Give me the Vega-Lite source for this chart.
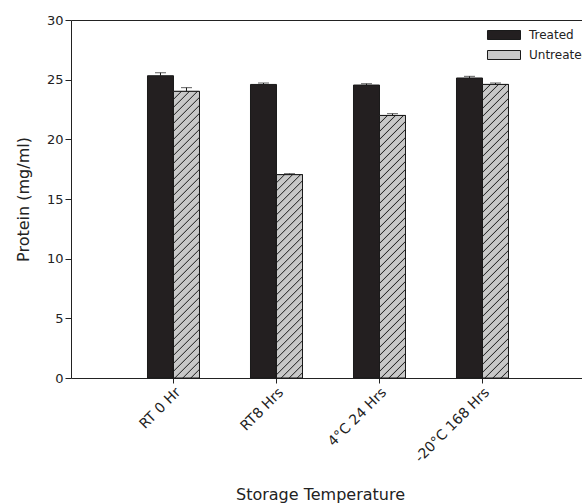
{
  "$schema": "https://vega.github.io/schema/vega-lite/v6.json",
  "autosize": "none",
  "padding": {"left": 71, "top": 20, "right": 0, "bottom": 126},
  "width": 511,
  "height": 358,
  "params": [
    {"name": "hs", "value": [
      {"offset":0,"color":"#c8c8c8"},
      {"offset":0.0215,"color":"#c8c8c8"},{"offset":0.025,"color":"#2a2a2a"},{"offset":0.0285,"color":"#c8c8c8"},
      {"offset":0.0465,"color":"#c8c8c8"},{"offset":0.05,"color":"#2a2a2a"},{"offset":0.0535,"color":"#c8c8c8"},
      {"offset":0.0715,"color":"#c8c8c8"},{"offset":0.075,"color":"#2a2a2a"},{"offset":0.0785,"color":"#c8c8c8"},
      {"offset":0.0965,"color":"#c8c8c8"},{"offset":0.1,"color":"#2a2a2a"},{"offset":0.1035,"color":"#c8c8c8"},
      {"offset":0.1215,"color":"#c8c8c8"},{"offset":0.125,"color":"#2a2a2a"},{"offset":0.1285,"color":"#c8c8c8"},
      {"offset":0.1465,"color":"#c8c8c8"},{"offset":0.15,"color":"#2a2a2a"},{"offset":0.1535,"color":"#c8c8c8"},
      {"offset":0.1715,"color":"#c8c8c8"},{"offset":0.175,"color":"#2a2a2a"},{"offset":0.1785,"color":"#c8c8c8"},
      {"offset":0.1965,"color":"#c8c8c8"},{"offset":0.2,"color":"#2a2a2a"},{"offset":0.2035,"color":"#c8c8c8"},
      {"offset":0.2215,"color":"#c8c8c8"},{"offset":0.225,"color":"#2a2a2a"},{"offset":0.2285,"color":"#c8c8c8"},
      {"offset":0.2465,"color":"#c8c8c8"},{"offset":0.25,"color":"#2a2a2a"},{"offset":0.2535,"color":"#c8c8c8"},
      {"offset":0.2715,"color":"#c8c8c8"},{"offset":0.275,"color":"#2a2a2a"},{"offset":0.2785,"color":"#c8c8c8"},
      {"offset":0.2965,"color":"#c8c8c8"},{"offset":0.3,"color":"#2a2a2a"},{"offset":0.3035,"color":"#c8c8c8"},
      {"offset":0.3215,"color":"#c8c8c8"},{"offset":0.325,"color":"#2a2a2a"},{"offset":0.3285,"color":"#c8c8c8"},
      {"offset":0.3465,"color":"#c8c8c8"},{"offset":0.35,"color":"#2a2a2a"},{"offset":0.3535,"color":"#c8c8c8"},
      {"offset":0.3715,"color":"#c8c8c8"},{"offset":0.375,"color":"#2a2a2a"},{"offset":0.3785,"color":"#c8c8c8"},
      {"offset":0.3965,"color":"#c8c8c8"},{"offset":0.4,"color":"#2a2a2a"},{"offset":0.4035,"color":"#c8c8c8"},
      {"offset":0.4215,"color":"#c8c8c8"},{"offset":0.425,"color":"#2a2a2a"},{"offset":0.4285,"color":"#c8c8c8"},
      {"offset":0.4465,"color":"#c8c8c8"},{"offset":0.45,"color":"#2a2a2a"},{"offset":0.4535,"color":"#c8c8c8"},
      {"offset":0.4715,"color":"#c8c8c8"},{"offset":0.475,"color":"#2a2a2a"},{"offset":0.4785,"color":"#c8c8c8"},
      {"offset":0.4965,"color":"#c8c8c8"},{"offset":0.5,"color":"#2a2a2a"},{"offset":0.5035,"color":"#c8c8c8"},
      {"offset":0.5215,"color":"#c8c8c8"},{"offset":0.525,"color":"#2a2a2a"},{"offset":0.5285,"color":"#c8c8c8"},
      {"offset":0.5465,"color":"#c8c8c8"},{"offset":0.55,"color":"#2a2a2a"},{"offset":0.5535,"color":"#c8c8c8"},
      {"offset":0.5715,"color":"#c8c8c8"},{"offset":0.575,"color":"#2a2a2a"},{"offset":0.5785,"color":"#c8c8c8"},
      {"offset":0.5965,"color":"#c8c8c8"},{"offset":0.6,"color":"#2a2a2a"},{"offset":0.6035,"color":"#c8c8c8"},
      {"offset":0.6215,"color":"#c8c8c8"},{"offset":0.625,"color":"#2a2a2a"},{"offset":0.6285,"color":"#c8c8c8"},
      {"offset":0.6465,"color":"#c8c8c8"},{"offset":0.65,"color":"#2a2a2a"},{"offset":0.6535,"color":"#c8c8c8"},
      {"offset":0.6715,"color":"#c8c8c8"},{"offset":0.675,"color":"#2a2a2a"},{"offset":0.6785,"color":"#c8c8c8"},
      {"offset":0.6965,"color":"#c8c8c8"},{"offset":0.7,"color":"#2a2a2a"},{"offset":0.7035,"color":"#c8c8c8"},
      {"offset":0.7215,"color":"#c8c8c8"},{"offset":0.725,"color":"#2a2a2a"},{"offset":0.7285,"color":"#c8c8c8"},
      {"offset":0.7465,"color":"#c8c8c8"},{"offset":0.75,"color":"#2a2a2a"},{"offset":0.7535,"color":"#c8c8c8"},
      {"offset":0.7715,"color":"#c8c8c8"},{"offset":0.775,"color":"#2a2a2a"},{"offset":0.7785,"color":"#c8c8c8"},
      {"offset":0.7965,"color":"#c8c8c8"},{"offset":0.8,"color":"#2a2a2a"},{"offset":0.8035,"color":"#c8c8c8"},
      {"offset":0.8215,"color":"#c8c8c8"},{"offset":0.825,"color":"#2a2a2a"},{"offset":0.8285,"color":"#c8c8c8"},
      {"offset":0.8465,"color":"#c8c8c8"},{"offset":0.85,"color":"#2a2a2a"},{"offset":0.8535,"color":"#c8c8c8"},
      {"offset":0.8715,"color":"#c8c8c8"},{"offset":0.875,"color":"#2a2a2a"},{"offset":0.8785,"color":"#c8c8c8"},
      {"offset":0.8965,"color":"#c8c8c8"},{"offset":0.9,"color":"#2a2a2a"},{"offset":0.9035,"color":"#c8c8c8"},
      {"offset":0.9215,"color":"#c8c8c8"},{"offset":0.925,"color":"#2a2a2a"},{"offset":0.9285,"color":"#c8c8c8"},
      {"offset":0.9465,"color":"#c8c8c8"},{"offset":0.95,"color":"#2a2a2a"},{"offset":0.9535,"color":"#c8c8c8"},
      {"offset":0.9715,"color":"#c8c8c8"},{"offset":0.975,"color":"#2a2a2a"},{"offset":0.9785,"color":"#c8c8c8"},
      {"offset":1,"color":"#c8c8c8"}
    ]}
  ],
  "data": {"values": [
    {"Temp":"RT 0 Hr","Group":"Treated","Protein":25.33,"Upper":25.58},
    {"Temp":"RT 0 Hr","Group":"Untreated","Protein":24.02,"Upper":24.33},
    {"Temp":"RT8 Hrs","Group":"Treated","Protein":24.6,"Upper":24.72},
    {"Temp":"RT8 Hrs","Group":"Untreated","Protein":17.04,"Upper":17.12},
    {"Temp":"4°C 24 Hrs","Group":"Treated","Protein":24.55,"Upper":24.66},
    {"Temp":"4°C 24 Hrs","Group":"Untreated","Protein":22.0,"Upper":22.15},
    {"Temp":"-20°C 168 Hrs","Group":"Treated","Protein":25.14,"Upper":25.28},
    {"Temp":"-20°C 168 Hrs","Group":"Untreated","Protein":24.6,"Upper":24.72}
  ]},
  "resolve": {"axis": {"x": "independent"}},
  "layer": [
    {
      "mark": {"type": "bar", "stroke": "#1a1a1a", "strokeWidth": 1},
      "encoding": {
        "x": {"field": "Temp", "type": "nominal", "sort": null,
              "scale": {"paddingInner": 0.495, "paddingOuter": 0.728, "align": 0.51},
              "axis": {"title": "Storage Temperature", "labelAngle": -45, "labelFontSize": 14, "tickSize": 5,
                       "labelPadding": 2, "titleFontSize": 16, "titleFontWeight": "normal",
                       "titleY": 121, "titleX": 249, "titleBaseline": "alphabetic", "titleAlign": "center"}},
        "xOffset": {"field": "Group", "type": "nominal", "scale": {"domain": ["Treated", "Untreated"]}},
        "y": {"field": "Protein", "type": "quantitative", "scale": {"domain": [0, 30], "nice": false},
              "axis": {"title": "Protein (mg/ml)", "values": [0, 5, 10, 15, 20, 25, 30], "labelFontSize": 13,
                       "tickSize": 6, "labelPadding": 2, "titleFontSize": 16, "titleFontWeight": "normal",
                       "titleX": -48, "titleY": 179, "titleAlign": "center", "titleBaseline": "middle"}},
        "fill": {"field": "Group", "type": "nominal",
                 "scale": {"domain": ["Treated", "Untreated"], "range": ["#231f20", "#c8c8c8"]},
                 "legend": {"title": null, "orient": "none", "legendX": 427, "legendY": 9, "padding": 0,
                            "symbolType": "M-3.67,-1L3.67,-1L3.67,1L-3.67,1Z", "symbolSize": 81,
                            "symbolStrokeColor": "#1a1a1a", "symbolStrokeWidth": 1, "labelOffset": 19,
                            "labelFontSize": 12, "rowPadding": 6,
                            "encoding": {"symbols": {
                              "fill": {"value": {"expr": "datum.value === 'Untreated' ? {gradient:'linear',x1:0,y1:0,x2:9.026,y2:2.462,stops:hs} : '#231f20'"}},
                              "stroke": {"value": "#1a1a1a"},
                              "strokeWidth": {"value": 1}
                            }}}}
      }
    },
    {
      "transform": [{"filter": "datum.Group === 'Untreated'"}],
      "mark": {"type": "bar", "stroke": "#1a1a1a", "strokeWidth": 1,
               "fill": {"expr": "{gradient:'linear',x1:0,y1:0,x2:320*26/(676+pow(datum.Protein*height/30,2)),y2:320*(datum.Protein*height/30)/(676+pow(datum.Protein*height/30,2)),stops:hs}"}},
      "encoding": {
        "x": {"field": "Temp", "type": "nominal", "sort": null,
              "axis": {"orient": "top", "labels": false, "ticks": false, "title": null, "domain": true}},
        "xOffset": {"field": "Group", "type": "nominal"},
        "y": {"field": "Protein", "type": "quantitative"}
      }
    },
    {
      "mark": {"type": "rule", "color": "#1a1a1a", "strokeWidth": 1},
      "encoding": {
        "x": {"field": "Temp", "type": "nominal", "sort": null, "axis": null},
        "xOffset": {"field": "Group", "type": "nominal"},
        "y": {"field": "Protein", "type": "quantitative"},
        "y2": {"field": "Upper"}
      }
    },
    {
      "mark": {"type": "tick", "color": "#1a1a1a", "thickness": 1, "size": 11},
      "encoding": {
        "x": {"field": "Temp", "type": "nominal", "sort": null, "axis": null},
        "xOffset": {"field": "Group", "type": "nominal"},
        "y": {"field": "Upper", "type": "quantitative"}
      }
    }
  ],
  "config": {
    "font": "DejaVu Sans",
    "view": {"stroke": null},
    "axis": {"grid": false, "domainColor": "#222", "tickColor": "#222", "labelColor": "#222", "titleColor": "#222"},
    "legend": {"labelColor": "#222"}
  }
}
